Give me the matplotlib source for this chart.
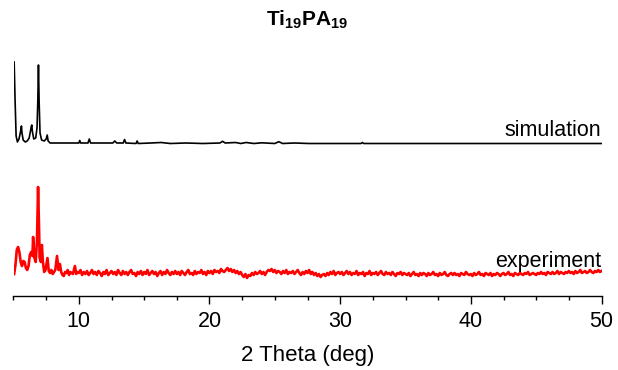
import numpy as np
import matplotlib
matplotlib.use("Agg")
import matplotlib.pyplot as plt
from matplotlib.ticker import MultipleLocator

plt.rcParams['font.family'] = ['Liberation Sans', 'DejaVu Sans']
plt.rcParams['mathtext.fontset'] = 'custom'
plt.rcParams['mathtext.rm'] = 'Liberation Sans'
plt.rcParams['mathtext.bf'] = 'Liberation Sans:bold'

# simulated pattern (offset intensity, a.u.)
sim_x = [5.05, 5.12, 5.2, 5.3, 5.42, 5.52, 5.58, 5.61, 5.65, 5.74, 5.9, 6.05, 6.2, 6.3,
         6.37, 6.4, 6.44, 6.55, 6.7, 6.8, 6.86, 6.91, 6.96, 7.03, 7.15, 7.35, 7.5, 7.58,
         7.65, 7.8, 8.5, 9.5, 10.0, 10.07, 10.14, 10.7, 10.8, 10.9, 11.8, 12.6, 12.75,
         12.9, 13.4, 13.5, 13.6, 14.38, 14.46, 14.55, 15.5, 16.3, 17.0, 18.2, 19.5, 20.8,
         21.0, 21.2, 22.0, 22.4, 22.8, 23.4, 24.0, 25.0, 25.3, 25.6, 26.5, 27.6, 29.0,
         31.6, 31.7, 31.8, 34.0, 38.0, 42.0, 46.0, 50.0]
sim_y = [234, 196, 160, 154, 157, 163, 168, 170, 163, 156, 154, 155, 158, 165,
         170, 171, 165, 157, 158, 168, 195, 231, 195, 163, 156, 155, 157, 161,
         155, 153, 153, 153, 153, 155.5, 153, 153, 157, 153, 153, 153, 155,
         153, 153, 156.5, 153, 152.5, 155, 152.5, 153, 153.5, 152.5, 153, 152.5, 153,
         154.7, 153, 153.5, 152.5, 153.5, 152.5, 153.2, 152.5, 154.3, 152.5, 153, 152.5, 152.5,
         152.5, 153.5, 152.5, 152.5, 152.5, 152.5, 152.5, 152.5]

# experimental pattern, low-angle part
exp_x_low = [5.05, 5.15, 5.25, 5.35, 5.45, 5.55, 5.65, 5.75, 5.85, 5.95, 6.05, 6.15, 6.25,
             6.35, 6.45, 6.5, 6.6, 6.7, 6.8, 6.88, 6.95, 7.0, 7.1, 7.17, 7.25, 7.35, 7.45,
             7.6, 7.7, 7.8, 7.9, 8.0, 8.1, 8.2, 8.33, 8.45, 8.55, 8.65, 8.75, 8.85, 8.95,
             9.05, 9.15, 9.25, 9.35, 9.45, 9.55, 9.7, 9.8, 9.9]
exp_y_low = [22, 31, 46, 49, 44, 34, 30, 35, 34, 28, 26, 30, 41,
             44, 40, 59, 38, 34, 56, 109, 71, 38, 34, 51, 34, 24, 26,
             38, 25, 23, 26, 22, 24, 26, 40, 26, 32, 24, 21, 20, 24,
             23, 26, 21, 24, 23, 22, 30, 22, 24]

# experimental pattern, 10-50 deg (step 0.125)
exp_y_high = [23, 26, 21, 24, 22, 25, 21, 23, 26, 22,
              24, 21, 25, 23, 20, 24, 22, 26, 21, 23,
              25, 22, 24, 21, 26, 23, 21, 25, 22, 24,
              21, 24, 26, 22, 23, 20, 24, 22, 25, 21,
              24, 22, 26, 21, 23, 25, 22, 24, 20, 23,
              25, 21, 24, 22, 26, 23, 21, 24, 22, 25,
              22, 24, 21, 25, 23, 21, 24, 26, 22, 23,
              21, 25, 22, 24, 23, 26, 22, 24, 21, 25,
              23, 25, 22, 26, 24, 25, 23, 27, 25, 24,
              26, 28, 25, 27, 24, 26, 23, 25, 22, 24,
              21, 19, 22, 18, 21, 20, 23, 21, 24, 22,
              23, 25, 22, 24, 21, 24, 26, 25, 27, 24,
              26, 23, 25, 24, 22, 25, 23, 26, 22, 24,
              23, 25, 22, 24, 26, 23, 21, 24, 22, 25,
              23, 26, 22, 24, 21, 23, 20, 22, 19, 21,
              22, 20, 23, 21, 24, 22, 25, 21, 23, 24,
              22, 24, 21, 23, 25, 22, 24, 21, 23, 22,
              25, 21, 23, 22, 24, 20, 23, 22, 25, 21,
              23, 22, 24, 21, 23, 25, 22, 21, 24, 22,
              23, 21, 24, 22, 20, 23, 22, 24, 21, 23,
              22, 21, 23, 20, 22, 24, 21, 22, 20, 23,
              21, 23, 22, 20, 23, 21, 22, 24, 21, 22,
              20, 23, 21, 22, 24, 21, 20, 22, 23, 21,
              23, 21, 22, 20, 23, 22, 21, 24, 22, 21,
              22, 20, 23, 21, 22, 24, 21, 22, 20, 23,
              22, 21, 23, 20, 22, 21, 23, 22, 20, 22,
              23, 21, 22, 24, 21, 22, 20, 23, 22, 21,
              23, 22, 21, 23, 22, 24, 21, 22, 23, 22,
              21, 23, 22, 24, 22, 23, 21, 24, 23, 22,
              24, 22, 23, 25, 22, 24, 23, 22, 24, 23,
              25, 23, 24, 22, 25, 23, 24, 26, 23, 24,
              25, 23, 24, 26, 24, 23, 25, 24, 26, 24,
              25]
exp_x_high = np.arange(10.0, 50.001, 0.125)

exp_x = np.concatenate([exp_x_low, exp_x_high])
exp_y = np.concatenate([exp_y_low, exp_y_high])

fig = plt.figure(figsize=(6.18, 3.70), dpi=100)
ax = fig.add_axes([13.5 / 618, 74 / 370, 588 / 618, 256 / 370])

ax.plot(sim_x, sim_y, color='black', lw=1.2)
ax.plot(exp_x, exp_y, color='red', lw=1.9)

ax.text(50, 160, 'simulation', ha='right', va='baseline', fontsize=15.5)
ax.text(50, 29.5, 'experiment', ha='right', va='baseline', fontsize=15.5)

ax.set_xlim(5, 50)
ax.set_ylim(0, 256)
ax.xaxis.set_major_locator(MultipleLocator(10))
ax.xaxis.set_minor_locator(MultipleLocator(2.5))
ax.tick_params(axis='x', which='major', length=6, width=1, labelsize=15.5, pad=5)
ax.tick_params(axis='x', which='minor', length=3.2, width=1)
ax.set_yticks([])
for s in ['left', 'right', 'top']:
    ax.spines[s].set_visible(False)
ax.spines['bottom'].set_linewidth(1)
ax.set_xlabel('2 Theta (deg)', fontsize=16, labelpad=9)

fig.text(307.5 / 618, 1 - 26 / 370, r'$\mathbf{Ti_{19}PA_{19}}$', ha='center',
         va='baseline', fontsize=15)

fig.savefig('out.png', dpi=100)
